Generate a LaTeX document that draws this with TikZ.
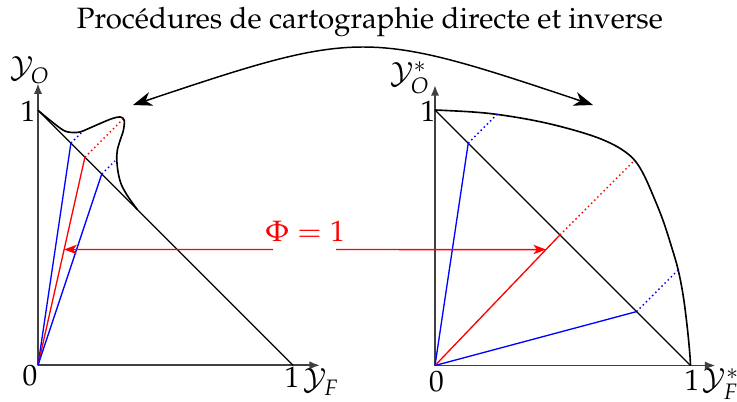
\documentclass[tikz,border=0pt]{standalone}
\usepackage[T1]{fontenc}
\usepackage{mathpazo}
\usetikzlibrary{arrows.meta}
\tikzset{
  axisline/.style={black!75, line width=0.65pt, -{Latex[length=3.6pt,width=2.8pt]}},
  curveline/.style={black, line width=0.55pt},
  diagline/.style={black, line width=0.45pt},
  bray/.style={blue, line width=0.45pt},
  rray/.style={red, line width=0.45pt},
  bdot/.style={blue, line width=0.5pt, densely dotted},
  rdot/.style={red, line width=0.5pt, densely dotted},
  lbl/.style={inner sep=0pt},
  bigarrow/.style={black, line width=0.5pt, {Stealth[length=6.5pt,width=4.8pt,inset=2pt]}-{Stealth[length=6.5pt,width=4.8pt,inset=2pt]}},
  phiarrow/.style={red, line width=0.5pt, -{Stealth[length=4.3pt,width=3.2pt,inset=1.2pt]}},
}
\begin{document}
\begin{tikzpicture}[x=0.34pt,y=-0.34pt]
\useasboundingbox (0,0) rectangle (737,401);
\node[lbl] (title) at (370,22) {Proc\'edures de cartographie directe et inverse};

% left plot
\begin{scope}[shift={(38,365.3)},x=86.7pt,y=86.7pt]
  \coordinate (O1) at (0,0);
  \coordinate (X1) at (1.106,0);
  \coordinate (Y1) at (0,1.106);
  \coordinate (A1) at (0,1);
  \coordinate (B1) at (1,0);
  \coordinate (P1) at (0.129,0.871);
  \coordinate (Q1) at (0.173,0.915);
  \coordinate (R1) at (0.184,0.816);
  \coordinate (S1) at (0.333,0.965);
  \coordinate (T1) at (0.25,0.75);
  \coordinate (U1) at (0.302,0.802);
  \draw[axisline] (O1) -- (X1);
  \draw[axisline] (O1) -- (Y1);
  \draw[diagline] (A1) -- (B1);
  \draw[curveline] plot[smooth, tension=0.55] coordinates {(0,1) (0.047,0.961) (0.099,0.922) (0.132,0.913) (0.165,0.915) (0.197,0.928) (0.243,0.948) (0.289,0.967) (0.322,0.974) (0.338,0.961) (0.335,0.922) (0.322,0.882) (0.311,0.843) (0.309,0.804) (0.315,0.752) (0.328,0.706) (0.354,0.660) (0.39,0.61)};
  \draw[bray] (O1) -- (P1);
  \draw[bdot] (P1) -- (Q1);
  \draw[rray] (O1) -- (R1);
  \draw[rdot] (R1) -- (S1);
  \draw[bray] (O1) -- (T1);
  \draw[bdot] (T1) -- (U1);
\end{scope}

% right plot
\begin{scope}[shift={(435,365.5)},x=86.87pt,y=86.87pt]
  \coordinate (O2) at (0,0);
  \coordinate (X2) at (1.098,0);
  \coordinate (Y2) at (0,1.098);
  \coordinate (A2) at (0,1);
  \coordinate (B2) at (1,0);
  \coordinate (P2) at (0.13,0.87);
  \coordinate (Q2) at (0.244,0.984);
  \coordinate (R2) at (0.489,0.511);
  \coordinate (S2) at (0.781,0.803);
  \coordinate (T2) at (0.789,0.211);
  \coordinate (U2) at (0.953,0.375);
  \draw[axisline] (O2) -- (X2);
  \draw[axisline] (O2) -- (Y2);
  \draw[diagline] (A2) -- (B2);
  \draw[curveline] plot[smooth, tension=0.6] coordinates {(0,1) (0.137,0.993) (0.241,0.983) (0.372,0.962) (0.489,0.936) (0.607,0.902) (0.685,0.871) (0.742,0.838) (0.784,0.800) (0.818,0.745) (0.854,0.664) (0.892,0.569) (0.925,0.467) (0.952,0.373) (0.972,0.269) (0.987,0.152) (0.997,0.05) (1,0)};
  \draw[bray] (O2) -- (P2);
  \draw[bdot] (P2) -- (Q2);
  \draw[rray] (O2) -- (R2);
  \draw[rdot] (R2) -- (S2);
  \draw[bray] (O2) -- (T2);
  \draw[bdot] (T2) -- (U2);
\end{scope}

% axis labels
\node[lbl] (l1y) at (28,111) {1};
\node[lbl] (l0) at (30,376) {0};
\node[lbl] (l1x) at (292,377) {1};
\node[lbl] (lYF) at (321,382) {$\mathcal{Y}_F$};
\node[lbl] (lYO) at (30,70) {$\mathcal{Y}_O$};
\node[lbl] (r1y) at (428,111) {1};
\node[lbl] (r0) at (436.5,382) {0};
\node[lbl] (r1x) at (692,380) {1};
\node[lbl] (rYF) at (721,384) {$\mathcal{Y}_F^*$};
\node[lbl] (rYO) at (410,78) {$\mathcal{Y}_O^*$};

% top arrow
\coordinate (TL) at (133,105);
\coordinate (TR) at (593,105);
\draw[bigarrow] (TL) .. controls (360,29) and (366,29) .. (TR);

% Phi arrows
\node[lbl, red] (phi) at (305,231) {$\Phi = 1$};
\coordinate (la) at (273,249.5);
\coordinate (ra) at (336,249.5);
\draw[phiarrow] (la) -- (intersection of la--ra and O1--R1);
\draw[phiarrow] (ra) -- (intersection of la--ra and O2--R2);
\end{tikzpicture}
\end{document}
